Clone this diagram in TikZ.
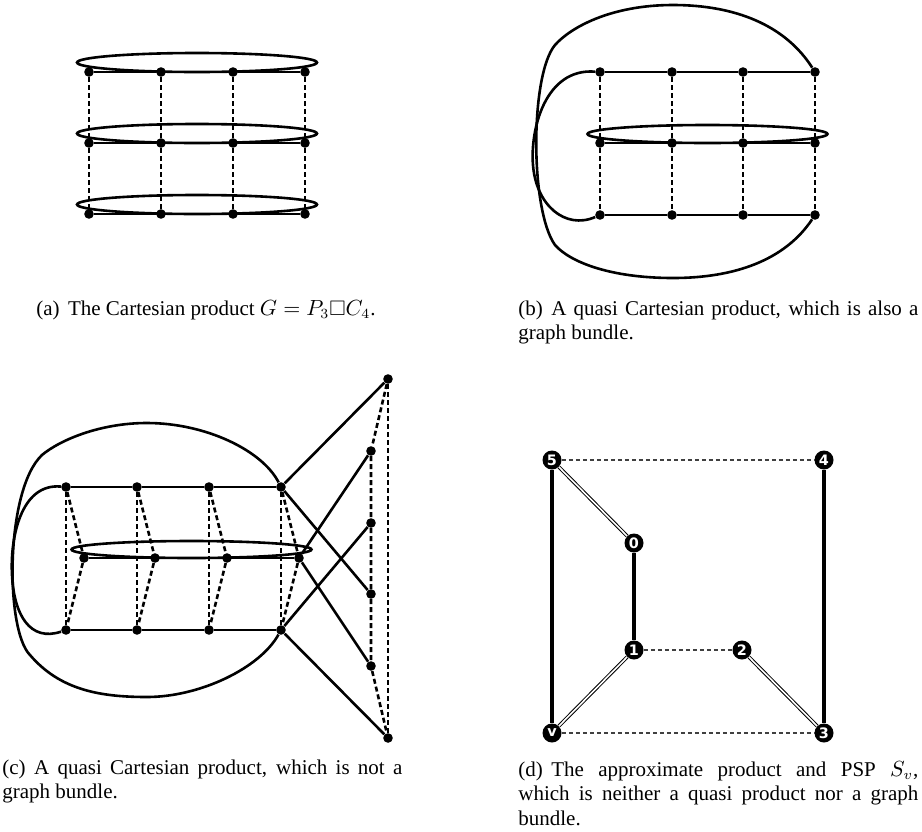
\documentclass[tikz,border=0pt]{standalone}
\usepackage{amsmath,amssymb}
\usepackage{fontspec}
\setmainfont{Liberation Serif}
\newfontfamily\numfont{DejaVu Sans}
\usetikzlibrary{positioning}
\hyphenpenalty=10000
\exhyphenpenalty=10000

\begin{document}
\begin{tikzpicture}[
    x=0.5pt, y=-0.5pt,
    dot/.style={circle, fill=black, inner sep=0pt, minimum size=4.8pt},
    edge/.style={line width=1.3pt},
    fibre/.style={line width=1.3pt, dash pattern=on 2.5pt off 1.5pt},
    num/.style={circle, fill=black, inner sep=0pt, minimum size=9.5pt, text=white, font=\numfont\bfseries\fontsize{7.2}{8}\selectfont},
    heavy/.style={line width=2pt},
    twin/.style={double, line width=0.5pt, double distance=0.8pt},
    faint/.style={black!75, line width=0.6pt, dash pattern=on 2pt off 1.5pt},
    capt/.style={text width=200pt, align=justify, inner sep=0pt, font=\fontsize{10.5}{12.3}\selectfont, anchor=base west}
]
\useasboundingbox (0,0) rectangle (922,831);

% (a) the Cartesian product
\foreach \r/\y in {1/72, 2/143, 3/214} {
  \foreach \c/\x in {1/89, 2/161, 3/233, 4/305}
    \node[dot] (a\r\c) at (\x,\y) {};
  \draw[edge] (a\r1) -- (a\r2) -- (a\r3) -- (a\r4);
  \draw[edge] (197,\y-9.5) ellipse [x radius=120, y radius=9.5];
}
\foreach \c in {1,...,4}
  \draw[fibre] (a1\c) -- (a2\c) -- (a3\c);

% (b) quasi product, also a bundle
\foreach \r/\y in {1/72, 2/143, 3/215} {
  \foreach \c/\x in {1/600, 2/672, 3/743, 4/815}
    \node[dot] (b\r\c) at (\x,\y) {};
  \draw[edge] (b\r1) -- (b\r2) -- (b\r3) -- (b\r4);
}
\draw[edge] (707.5,134) ellipse [x radius=120, y radius=9];
\foreach \c in {1,...,4}
  \draw[fibre] (b1\c) -- (b2\c) -- (b3\c);
\draw[edge] (b14) .. controls (785,25) and (735,5) .. (673,5)
  .. controls (610,5) and (570,28) .. (555,45)
  .. controls (530,75) and (530,210) .. (555,245)
  .. controls (570,262) and (610,278) .. (673,278)
  .. controls (735,278) and (785,260) .. (b34);
\draw[edge] (b11) .. controls (545,68) and (530,130) .. (533,165)
  .. controls (536,205) and (565,230) .. (b31);

% (c) quasi product, not a bundle
\foreach \c/\x/\m in {1/66/84, 2/137/155, 3/209/227, 4/281/299} {
  \node[dot] (c1\c) at (\x,487) {};
  \node[dot] (c2\c) at (\m,558) {};
  \node[dot] (c3\c) at (\x,630) {};
}
\foreach \r in {1,2,3}
  \draw[edge] (c\r1) -- (c\r2) -- (c\r3) -- (c\r4);
\draw[edge] (191.5,549.5) ellipse [x radius=120, y radius=8.5];
\foreach \c in {1,...,4} {
  \draw[fibre] (c1\c) -- (c3\c);
  \draw[fibre] (c1\c) -- (c2\c) -- (c3\c);
}
\node[dot] (r1) at (388,379) {};
\node[dot] (r2) at (371,451) {};
\node[dot] (r3) at (371,523) {};
\node[dot] (r4) at (371,594) {};
\node[dot] (r5) at (371,666) {};
\node[dot] (r6) at (388,738) {};
\draw[edge] (c14) -- (r1);
\draw[edge] (c14) -- (r4);
\draw[edge] (c24) -- (r2);
\draw[edge] (c24) -- (r5);
\draw[edge] (c34) -- (r3);
\draw[edge] (c34) -- (r6);
\draw[fibre] (r1) -- (r2) -- (r3) -- (r4) -- (r5) -- (r6);
\draw[fibre] (r1) -- (r6);
\draw[edge] (c14) .. controls (262,450) and (205,423) .. (147,423)
  .. controls (100,423) and (60,440) .. (42,455)
  .. controls (5,490) and (5,630) .. (30,655)
  .. controls (60,690) and (100,697) .. (147,697)
  .. controls (200,697) and (260,668) .. (c34);
\draw[edge] (c11) .. controls (20,483) and (10,540) .. (12,575)
  .. controls (14,615) and (30,642) .. (c31);

% (d) approximate product and PSP
\node[num] (n5) at (552,460) {5};
\node[num] (n4) at (824,460) {4};
\node[num] (n0) at (634,543) {0};
\node[num] (n1) at (634,650) {1};
\node[num] (n2) at (742,650) {2};
\node[num] (nv) at (552,733) {v};
\node[num] (n3) at (824,733) {3};
\draw[faint] (n5) -- (n4);
\draw[faint] (n1) -- (n2);
\draw[faint] (nv) -- (n3);
\draw[heavy] (n5) -- (nv);
\draw[heavy] (n4) -- (n3);
\draw[heavy] (n0) -- (n1);
\draw[twin] (n5) -- (n0);
\draw[twin] (n1) -- (nv);
\draw[twin] (n2) -- (n3);

% captions
\node[anchor=base, inner sep=0pt, font=\fontsize{10.5}{12.3}\selectfont] (capa) at (206,315)
  {(a)\hspace{.4em}The Cartesian product $G = P_3\Box C_4$.};
\node[capt] (capb) at (518,315)
  {(b)\hspace{.4em}A quasi Cartesian product, which is also a graph bundle.};
\node[capt] (capc) at (2,774)
  {(c)\hspace{.4em}A quasi Cartesian product, which is not a graph bundle.};
\node[capt] (capd) at (518,776)
  {(d)\hspace{.4em}The approximate product and PSP $S_v$, which is neither a quasi product nor a graph bundle.};

\end{tikzpicture}
\end{document}
